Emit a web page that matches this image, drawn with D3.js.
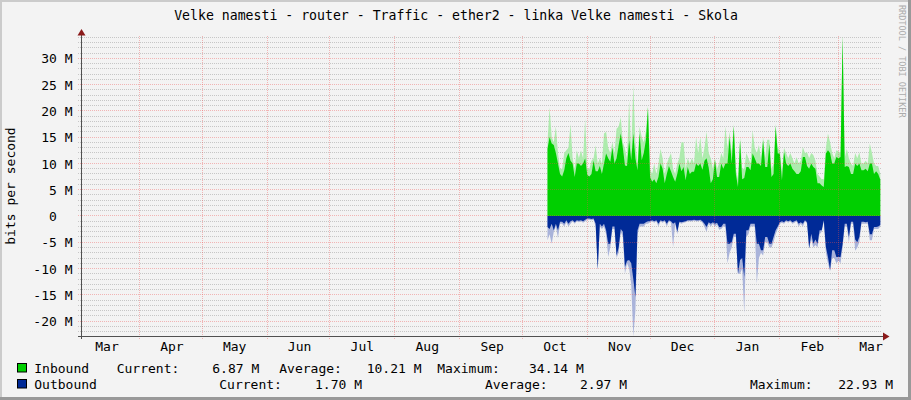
<!DOCTYPE html>
<html><head><meta charset="utf-8">
<script src="https://cdn.jsdelivr.net/npm/d3@7/dist/d3.min.js"></script>
<style>html,body{margin:0;padding:0;background:#F3F3F3;overflow:hidden}</style>
</head><body>
<svg id="chart" width="911" height="400"></svg>
<script>
const chartTitle = "Velke namesti - router - Traffic - ether2 - linka Velke namesti - Skola";
const yAxisTitle = "bits per second";
const watermark = "RRDTOOL / TOBI OETIKER";
const monthLabels = ["Mar","Apr","May","Jun","Jul","Aug","Sep","Oct","Nov","Dec","Jan","Feb","Mar"];
const yTickValues = [-20,-15,-10,-5,0,5,10,15,20,25,30];
const yTickLabels = ["-20 M","-15 M","-10 M","-5 M","0  ","5 M","10 M","15 M","20 M","25 M","30 M"];
const seriesNames = ["Inbound","Outbound"];
const seriesColors = ["#00CF00","#002A97"];
const currentValues = ["6.87 M","1.70 M"];
const averageValues = ["10.21 M","2.97 M"];
const maximumValues = ["34.14 M","22.93 M"];

// daily values in M bits/s, starting 2012-10-13
const inbound = [12.8,15,13.8,13.5,12,10,8,7.5,8.7,11,
 12,10.5,10,7.4,10,10,9.5,10,11,7.8,
 7.5,8,10.5,8.5,8.5,9.5,8,10,11.9,11,
 10.3,13,10,11,13.5,15.7,13,9.6,9.5,14.4,
 10.6,15.7,11,8.7,15.7,10.6,12,14.4,20.6,7.4,
 6.5,7,6.2,7.4,10,9,6.2,8,9.5,8.5,
 7.4,6.5,8,10,8.5,9.3,6.8,9.3,8,8.4,
 8.4,10,9.5,10,8.8,10.5,11,9.2,6.2,7,
 10.6,7.4,7.4,10,9,10,10,15,10,17,
 8,5.5,14.4,7,7.2,9.3,9.3,8.7,11.9,11,
 10,10,9.5,14.4,9.3,9.3,13.7,7.4,8,17,
 11.9,11.9,6.8,12.2,10,9.5,10,9,8.5,8,
 8,8.5,11.2,11.2,9.5,9,10,9.3,9,6.2,
 6.2,5.8,5.5,11.9,12.5,12,10,10,11.2,11,
 11.2,34.14,9.3,9.5,9.3,8,8,10,9.5,10,
 8.7,8.7,9,8.5,10,10,8,8.5,8,6.87];
const inboundPeak = [14,20.7,15,14,17,12,9,9,12,12.5,
 13,17.5,11,9,12.5,11,12.5,11,18.5,9,
 9,10.5,11,13.4,10,11,10,15.7,16,13,
 12,14,12,16.6,17,18.8,14,12.8,11,22,
 12,24.9,14,10,17,15,14,16,21,9,
 8,10,8,10,12.8,11,8,10,11,12,
 9,8,10,11,14,14,9,11,10,11,
 10,15,12,15,11,13,16,12,11,9,
 11,9,10,12,11,17,13,16,12,17.5,
 9,7,15,9,9,12,11,10,16.3,13,
 12,13.5,11,15,11,14.5,14.5,9,10,17.5,
 13,12.5,8.5,13,12,11,12,11,10,11.2,
 10,10.5,13.1,12,12.1,11,12,11.6,10.5,8,
 7.5,7,7,13,15.7,14,12,11,12.5,12.3,
 12,34.14,11,12.8,11,10,9.5,12,11,12.1,
 10,10,10.5,10,13.8,12,10,9.5,9.5,8];
const outbound = [2.1,2.5,1.5,2.7,1.5,2.7,1.1,1.1,1.5,0.8,
 1.5,1,0.8,1.2,0.8,0.9,0.8,1,0.7,0.5,
 0.5,0.6,0.5,1.5,10.2,1.5,2,1.5,2.7,5.3,
 5.3,2,2,7.5,6,2.5,3,9.7,8.5,8.4,
 9,12,15.4,2.7,1.5,1.5,1.5,1.2,1,1,
 0.8,1,0.8,1.5,0.8,1,0.8,1.5,0.8,1,
 1.5,1.2,3,1.1,1.2,1.1,1,0.8,0.8,0.8,
 0.7,0.8,0.8,0.7,1,1.5,2.1,1.2,1.5,1.2,
 1.5,1.3,2.1,2.1,1.5,1.5,5.3,5.3,5,3.4,
 3.4,11,8.4,8,11.6,2.7,2.7,1.5,1.5,1.5,
 5.3,5.3,6.5,6.5,4,4,5.3,5.3,4,2.7,
 2,1.2,1,1.2,0.8,1,0.8,1.2,1,0.8,
 1.5,1.2,1.5,0.8,1.2,6.2,3.4,5.3,4.5,5.3,
 2.7,2.7,0.8,5.9,7.8,10.3,6.5,6.5,7.8,7.8,
 7.8,5.3,1.5,1.5,4,1.1,1.1,4.5,5,4,
 1.1,1.1,1.2,1.1,3.5,3.5,2.1,2.1,2,1.7];
const outboundPeak = [4.6,3.5,5.3,3,2,4.2,1.5,1.5,2,1.2,
 2,1.5,1,1.5,1,1.2,1,1.3,1,0.7,
 0.7,0.8,0.7,2,10.2,2,2.5,2,3.5,7.8,
 6,2.5,2.5,8,7,3,4,11,9,10,
 13,22.93,18,3.5,2,2,2,1.5,1.5,1.2,
 1,1.3,1,2,1,1.3,1,2,1,1.3,
 5.9,1.5,3.5,1.3,1.5,1.3,1.2,1,1,1,
 0.9,1,1,0.9,1.3,2.1,3,1.5,2,1.5,
 2,1.6,2.6,2.5,2,2,9,7,6,4,
 4,11,11,10,18.6,4,3.5,2,2,2,
 12.9,8,7,7.5,5,5,6,6,5,3.5,
 2.5,1.5,1.3,1.5,1,1.3,1,1.5,1.3,1,
 2,1.5,2,1,1.5,6.2,4.5,6,5.5,6,
 3.5,3,1,7,9,10.5,8,8,9,8.5,
 9,6,2,2,5,1.5,1.5,6.6,6,5,
 1.5,1.5,1.5,1.5,4.6,4.6,2.5,2.5,2.5,2];

const W = 911, H = 400;
const FONT = "'DejaVu Sans Mono', monospace";
const svg = d3.select("#chart");
svg.append("rect").attr("width", W).attr("height", H).attr("fill", "#F3F3F3");
// frame
svg.append("rect").attr("x",0).attr("y",0).attr("width",W).attr("height",2).attr("fill","#CBCBCB");
svg.append("rect").attr("x",0).attr("y",0).attr("width",2).attr("height",H).attr("fill","#CBCBCB");
svg.append("rect").attr("x",0).attr("y",H-3).attr("width",W).attr("height",3).attr("fill","#999999");
svg.append("rect").attr("x",W-3).attr("y",0).attr("width",3).attr("height",H).attr("fill","#999999");

const tStart = new Date(Date.UTC(2012,2,4,3));
const tEnd = new Date(Date.UTC(2013,2,21,8));
const dataStart = new Date(Date.UTC(2012,9,13));
const x = d3.scaleUtc().domain([tStart, tEnd]).range([81, 881]);
const yMin = -22.93, yMax = 34.14;
const y = d3.scaleLinear().domain([yMin, yMax]).range([336.5, 36.5]);

const dates = inbound.map((_, i) => d3.utcDay.offset(dataStart, i));

const areaUp = vals => d3.area().x((d,i)=>x(dates[i])).y0(y(0)).y1((d,i)=>y(vals[i])).curve(d3.curveLinear)(vals);
const areaDown = vals => d3.area().x((d,i)=>x(dates[i])).y0(y(0)).y1((d,i)=>y(-vals[i])).curve(d3.curveLinear)(vals);

// grid (minor first, under data)
const crisp = v => Math.round(v) + 0.5;
const gridMinor = svg.append("g");
d3.range(Math.ceil(yMin), Math.floor(yMax) + 1).filter(v => v % 5 !== 0).forEach(v => {
  gridMinor.append("line").attr("x1", 78).attr("x2", 881)
    .attr("y1", crisp(y(v) - 0.5)).attr("y2", crisp(y(v) - 0.5))
    .attr("stroke", "#C6C6C6").attr("stroke-dasharray", "1,1");
});

const plot = svg.append("g");
plot.append("path").attr("d", areaUp(inboundPeak)).attr("fill", "#ADEBAD");
plot.append("path").attr("d", areaUp(inbound)).attr("fill", seriesColors[0]);
plot.append("path").attr("d", areaDown(outboundPeak)).attr("fill", "#A9B3DA");
plot.append("path").attr("d", areaDown(outbound)).attr("fill", seriesColors[1]);

// major grid on top
const grid = svg.append("g");
yTickValues.forEach(v => {
  grid.append("line").attr("x1", 78).attr("x2", 881)
    .attr("y1", crisp(y(v) - 0.5)).attr("y2", crisp(y(v) - 0.5))
    .attr("stroke", "rgba(240,80,80,0.38)").attr("stroke-dasharray", "1,1");
});
const monthStarts = d3.utcMonth.range(new Date(Date.UTC(2012,2,1)), new Date(Date.UTC(2013,2,2)));
monthStarts.filter(d => d > tStart && d < tEnd).forEach(d => {
  grid.append("line").attr("x1", crisp(x(d)-0.5)).attr("x2", crisp(x(d)-0.5))
    .attr("y1", 36).attr("y2", 339)
    .attr("stroke", "rgba(240,80,80,0.38)").attr("stroke-dasharray", "1,1");
});

// axis lines
svg.append("line").attr("x1", 78).attr("x2", 884).attr("y1", 336.5).attr("y2", 336.5).attr("stroke", "#505050");
svg.append("line").attr("x1", 81.5).attr("x2", 81.5).attr("y1", 339).attr("y2", 33).attr("stroke", "#505050");
svg.append("path").attr("d", "M77.5,35.5 L81.5,29 L85.5,35.5 Z").attr("fill", "#8B1A1A");
svg.append("path").attr("d", "M883,332.5 L889.5,336.5 L883,340.5 Z").attr("fill", "#8B1A1A");

// y axis labels
const yAxis = d3.axisLeft(y).tickValues(yTickValues).tickFormat((d,i)=>yTickLabels[i]).tickSize(0).tickPadding(9);
const gy = svg.append("g").attr("transform", "translate(81.5,0)").call(yAxis);
gy.select(".domain").remove();
gy.selectAll("text").attr("font-family", FONT).attr("font-size", 13).attr("fill", "#000")
  .attr("xml:space", "preserve").style("white-space", "pre").attr("dy", "0.36em");

// x axis labels (centered mid-month)
const labelDates = monthStarts.map(d => new Date(+d + 15.3 * 86400000));
const xAxis = d3.axisBottom(x).tickValues(labelDates).tickFormat((d,i)=>monthLabels[i]).tickSize(0).tickPadding(5);
const gx = svg.append("g").attr("transform", "translate(0,336.5)").call(xAxis);
gx.select(".domain").remove();
gx.selectAll("text").attr("font-family", FONT).attr("font-size", 13).attr("fill", "#000");

// title
svg.append("text").attr("x", 456).attr("y", 20).attr("text-anchor", "middle")
  .attr("font-family", FONT).attr("font-size", 13.2).attr("fill", "#000").text(chartTitle);
// y axis title
svg.append("text").attr("transform", "translate(15,186) rotate(-90)").attr("text-anchor", "middle")
  .attr("font-family", FONT).attr("font-size", 13).attr("fill", "#000").text(yAxisTitle);
// watermark
svg.append("text").attr("transform", "translate(898.5,5) rotate(90)")
  .attr("font-family", FONT).attr("font-size", 8.5).attr("fill", "#ABABAB").text(watermark);

// legend
const legendRows = [
  {yBase: 373, box: 363.5, pos: [116.7, 212.3, 279.3, 366.7, 437.3, 529]},
  {yBase: 389, box: 379.5, pos: [219.3, 315, 485, 580, 750, 838.3]}
];
const leg = svg.append("g").attr("font-family", FONT).attr("font-size", 13).attr("fill", "#000");
legendRows.forEach((r, i) => {
  leg.append("rect").attr("x", 17.5).attr("y", r.box).attr("width", 9).attr("height", 8.5)
    .attr("fill", seriesColors[i]).attr("stroke", "#000").attr("stroke-width", 1);
  const items = [seriesNames[i], "Current:", currentValues[i], "Average:", averageValues[i], "Maximum:", maximumValues[i]];
  const xs = [34.3].concat(r.pos);
  items.forEach((t, j) => leg.append("text").attr("x", xs[j]).attr("y", r.yBase).text(t));
});
</script>
</body></html>
